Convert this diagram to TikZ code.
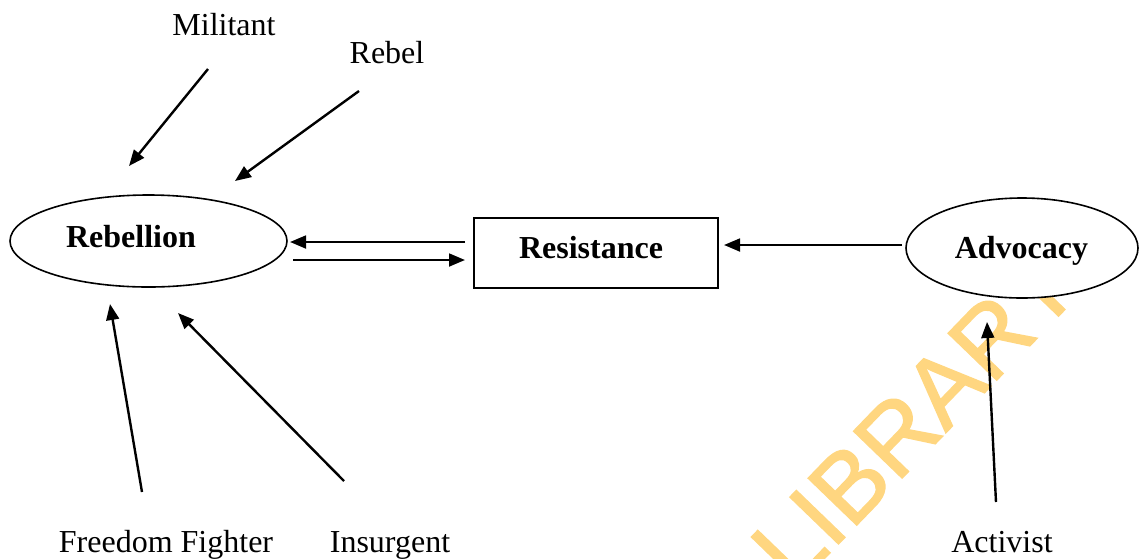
\documentclass[tikz,border=0pt]{standalone}
\usepackage{fontspec}
\setmainfont{Liberation Serif}
\newfontfamily\markfont[FakeBold=1.5]{Liberation Sans}
\usetikzlibrary{arrows.meta,shapes.geometric}
\definecolor{markcol}{RGB}{255,214,128}
\begin{document}
\begin{tikzpicture}[x=0.375pt, y=-0.375pt,
  every node/.style={font=\fontsize{12}{14}\selectfont, inner sep=0pt},
  concept/.style={draw, fill=white, ellipse, line width=0.6pt},
  term/.style={anchor=base},
  arr/.style={-{Triangle[length=6pt,width=4.8pt]}, line width=0.9pt}]
\useasboundingbox (0,0) rectangle (1139,558);
\begin{scope}
\clip (0,0) rectangle (1139,558);
\node (mark) [anchor=base west, rotate=46, text=markcol, font=\markfont\fontsize{36.75}{40}\selectfont] at (794,590) {LIBRARY};
\end{scope}
\node (rebellion) [concept, minimum width=277*0.375pt, minimum height=92*0.375pt] at (148.5,241) {};
\node (rebtext) [term] at (131,247) {\textbf{Rebellion}};
\node (resistance) [draw, line width=0.6pt, minimum width=244*0.375pt, minimum height=70*0.375pt] at (596,253) {};
\node (restext) [term] at (591,258) {\textbf{Resistance}};
\node (advocacy) [concept, minimum width=232*0.375pt, minimum height=100*0.375pt] at (1022,248) {};
\node (advtext) [term] at (1021.5,258) {\textbf{Advocacy}};
\node (militant) [term] at (224,35) {Militant};
\node (rebel) [term] at (387,63) {Rebel};
\node (freedom) [term] at (166,552) {Freedom Fighter};
\node (insurgent) [term] at (390,552) {Insurgent};
\node (activist) [term] at (1002,552) {Activist};
\coordinate (m1) at (208,69);   \coordinate (m2) at (129,166);
\coordinate (r1) at (359,91);   \coordinate (r2) at (235,181);
\coordinate (f1) at (142,492);  \coordinate (f2) at (110,304);
\coordinate (i1) at (344,481);  \coordinate (i2) at (178,313);
\coordinate (a1) at (996,502);  \coordinate (a2) at (987,322);
\coordinate (rs1) at (465,242); \coordinate (rb1) at (290,242);
\coordinate (rb2) at (293,260); \coordinate (rs2) at (465,260);
\coordinate (ad1) at (902,245); \coordinate (rs3) at (724,245);
\draw [arr] (m1) -- (m2);
\draw [arr] (r1) -- (r2);
\draw [arr] (f1) -- (f2);
\draw [arr] (i1) -- (i2);
\draw [arr] (a1) -- (a2);
\draw [arr] (rs1) -- (rb1);
\draw [arr] (rb2) -- (rs2);
\draw [arr] (ad1) -- (rs3);
\end{tikzpicture}
\end{document}
